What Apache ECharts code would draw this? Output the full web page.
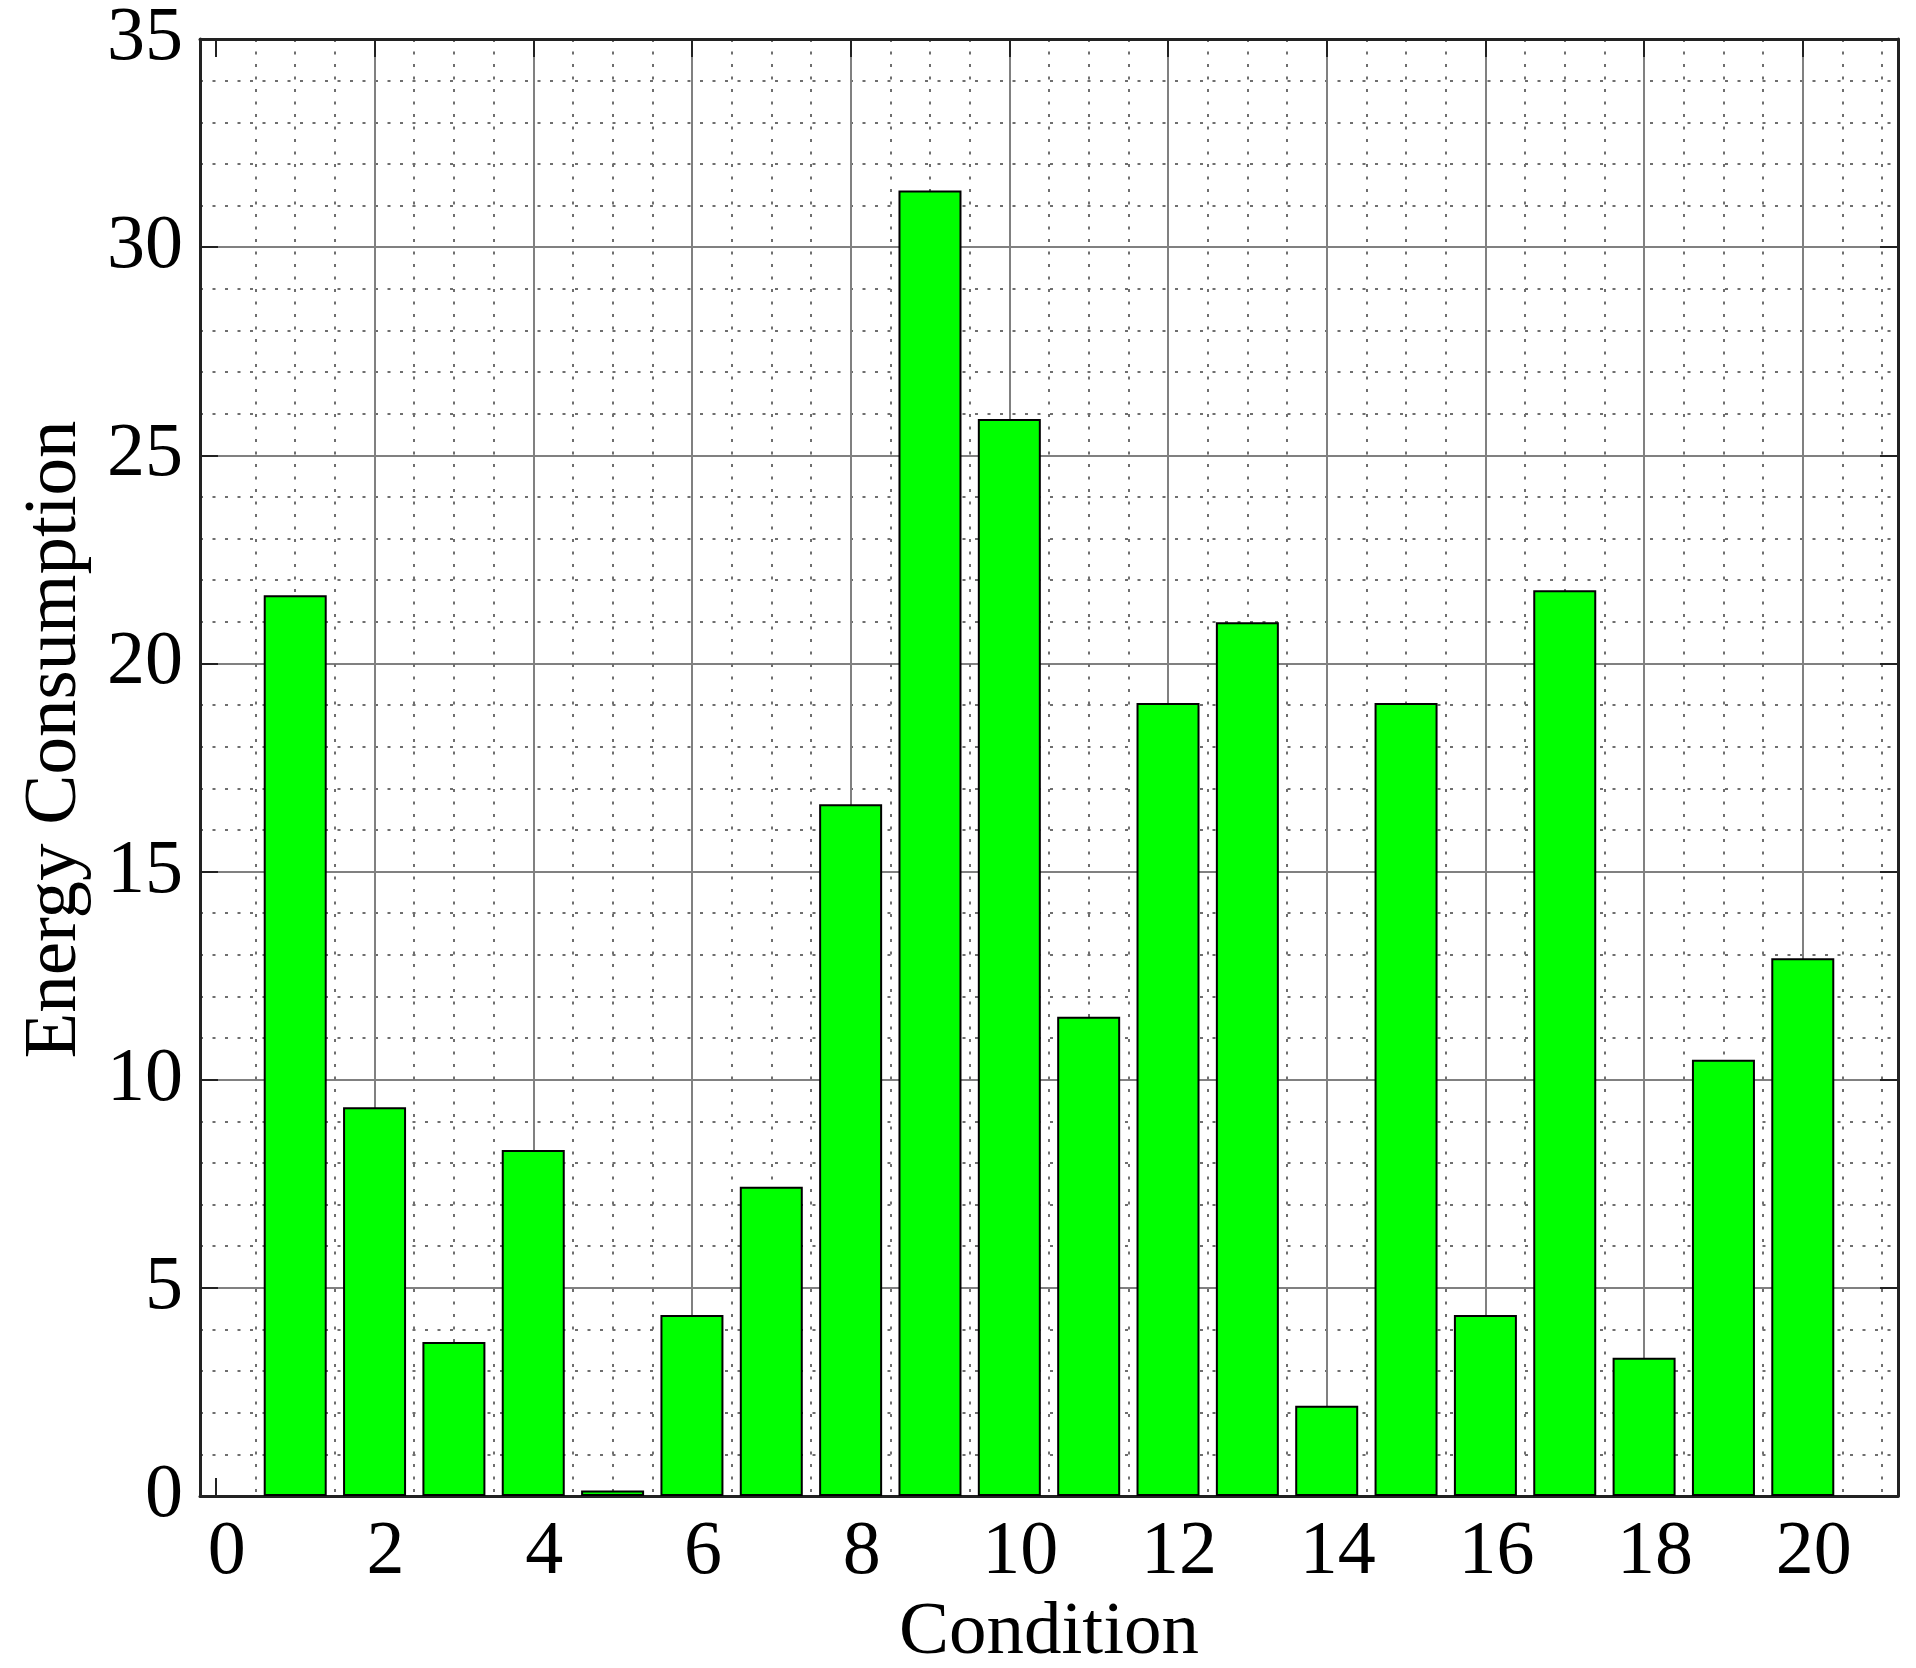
<!DOCTYPE html>
<html>
<head>
<meta charset="utf-8">
<script src="https://cdn.jsdelivr.net/npm/echarts@6/dist/echarts.min.js"></script>
<style>
html,body{margin:0;padding:0;background:#fff;}
#chart{width:1916px;height:1668px;}
</style>
</head>
<body>
<div id="chart"></div>
<script>
const conditions = [1,2,3,4,5,6,7,8,9,10,11,12,13,14,15,16,17,18,19,20];
const energy = [21.64,9.34,3.70,8.31,0.13,4.35,7.43,16.62,31.36,25.87,11.51,19.05,20.99,2.17,19.05,4.35,21.76,3.32,10.48,12.92];
const xTitle = 'Condition';
const yTitle = 'Energy Consumption';

const FONT = '"Liberation Serif", "Times New Roman", serif';
const AXIS_COLOR = '#222';
const GRID_GRAY = '#808080';
const MAJOR_Y = {color:GRID_GRAY, width:2, type:'solid'};
// x major lines: none drawn at the min edge and at 0 (as in the reference)
const xMajorColors = ['rgba(0,0,0,0)','rgba(0,0,0,0)'].concat(new Array(12).fill(GRID_GRAY));
const MAJOR_X = {color:xMajorColors, width:2, type:'solid'};
const MINOR = {color:'#6e6e6e', width:2, type:[3,9.5]};

const chart = echarts.init(document.getElementById('chart'), null, {renderer:'canvas'});
const option = {
  animation:false,
  backgroundColor:'#fff',
  grid:{left:200, right:18, top:39, bottom:172, containLabel:false, outerBoundsMode:'none'},
  xAxis:[{
    type:'value', min:-0.2, max:21.2, splitNumber:10,
    position:'bottom',
    name:xTitle, nameLocation:'middle', nameGap:90,
    nameTextStyle:{fontFamily:FONT, fontSize:75, color:'#000'},
    axisLine:{show:true, onZero:false, lineStyle:{color:AXIS_COLOR, width:3}},
    axisTick:{show:true, inside:true, length:18, lineStyle:{color:AXIS_COLOR, width:2}},
    axisLabel:{show:true, showMinLabel:false, showMaxLabel:false, margin:19, fontFamily:FONT, fontSize:76, color:'#000', padding:[0,0,0,22]},
    splitLine:{show:true, lineStyle:MAJOR_X},
    minorTick:{show:false, splitNumber:4},
    minorSplitLine:{show:true, lineStyle:MINOR}
  },{
    type:'value', min:-0.2, max:21.2, splitNumber:10,
    position:'top',
    axisLine:{show:true, onZero:false, lineStyle:{color:AXIS_COLOR, width:3}},
    axisTick:{show:true, inside:true, length:18, lineStyle:{color:AXIS_COLOR, width:2}},
    axisLabel:{show:false},
    splitLine:{show:false}
  }],
  yAxis:[{
    type:'value', min:0, max:35, interval:5,
    position:'left',
    name:yTitle, nameLocation:'middle', nameGap:107,
    nameTextStyle:{fontFamily:FONT, fontSize:75, color:'#000', padding:[0,0,0,56]},
    axisLine:{show:true, onZero:false, lineStyle:{color:AXIS_COLOR, width:3}},
    axisTick:{show:true, inside:true, length:18, lineStyle:{color:AXIS_COLOR, width:2}},
    axisLabel:{show:true, margin:17, fontFamily:FONT, fontSize:76, color:'#000', padding:[18,0,0,0]},
    splitLine:{show:true, lineStyle:MAJOR_Y},
    minorTick:{show:false, splitNumber:5},
    minorSplitLine:{show:true, lineStyle:MINOR}
  },{
    type:'value', min:0, max:35, interval:5,
    position:'right',
    axisLine:{show:true, onZero:false, lineStyle:{color:AXIS_COLOR, width:3}},
    axisTick:{show:true, inside:true, length:18, lineStyle:{color:AXIS_COLOR, width:2}},
    axisLabel:{show:false},
    splitLine:{show:false}
  }],
  series:[{
    type:'bar',
    xAxisIndex:0, yAxisIndex:0,
    data:conditions.map((c,i)=>[c, energy[i]]),
    barWidth:63,
    itemStyle:{color:'#00ff00', borderColor:'#000', borderWidth:2},
    z:5
  }]
};
chart.setOption(option);
</script>
</body>
</html>
